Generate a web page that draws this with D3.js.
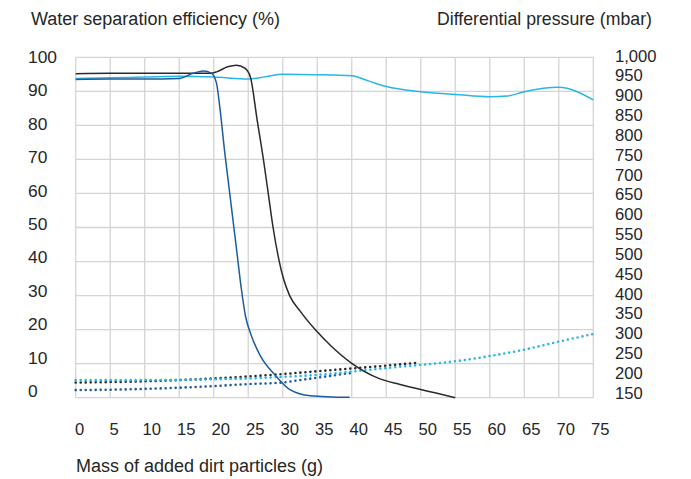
<!DOCTYPE html>
<html lang="en">
<head>
<meta charset="utf-8">
<title>Water separation</title>
<script src="https://cdn.jsdelivr.net/npm/d3@7"></script>
<style>
body { margin: 0; background: #fff; }
text { font-family: "Liberation Sans", Arial, Helvetica, sans-serif; fill: #262626; }
</style>
</head>
<body>
<script>
// x ticks, y ticks
var massTicks = d3.range(0, 80, 5);
var effTicks = d3.range(0, 110, 10);
var pressTicks = d3.range(150, 1050, 50);

// efficiency (%) vs mass (g)
var effBlack = [[0,95.2],[5,95.3],[10,95.3],[15,95.3],[19.5,95.3],[20.5,95.8],[22,97.2],[23.3,97.7],[24.5,96.8],[25.3,94.3],[26.3,81.5],[27.2,70],[27.9,60],[28.6,50],[29.5,40],[30.1,35],[31,30],[32.5,25.5],[34.7,20],[37,15.2],[40,10.1],[44,5.6],[47,3.9],[50,2.4],[52.8,1.1],[55,0]];
var effDarkBlue = [[0,93.5],[5,93.6],[10,93.6],[15,93.8],[17,95.3],[18.5,96.0],[19.7,95.3],[20.4,92.4],[20.9,85],[21.6,72],[22.2,62],[22.8,52],[23.4,42],[24,32],[24.6,24],[25.4,18.5],[26.7,12.5],[29.1,6.2],[31.1,2.3],[34,0.6],[39.7,0.1]];
var effLightBlue = [[0,93.8],[5,94.0],[10,94.2],[15,94.4],[20,94.2],[25,93.6],[27.5,94.3],[30,95.0],[35,94.9],[40,94.6],[42.5,93],[45,91.4],[50,89.9],[55,89.1],[60,88.4],[62.5,88.6],[65,89.9],[70,91.2],[75,87.5]];

// differential pressure (mbar) vs mass (g)
var pressBlack = [[0,188],[5,189],[10,191],[15,194],[20,198],[25,203],[30,209],[35,216],[40,223],[45,230],[49.3,237]];
var pressDarkBlue = [[0,169],[5,170],[10,172],[15,175],[20,179],[25,184],[30,188],[32.5,194],[35,200],[40,212]];
var pressLightBlue = [[0,194],[10,194],[20,196],[25,198],[30,202],[35,207],[40,215],[45,224],[50,232],[55,241],[60,254],[65,270],[70,290],[75,309]];

var W = 691, H = 479;
var plotL = 75.7, plotR = 593.3, plotT = 57.3, plotB = 397.7;

var svg = d3.select("body").append("svg")
    .attr("width", W)
    .attr("height", H);

var x = d3.scaleLinear().domain([0, 75]).range([plotL, plotR]);
var yEff = d3.scaleLinear().domain([0, 100]).range([plotB, plotT]);
var yPress = d3.scaleLinear().domain([150, 1000]).range([plotB, plotT]);
// tick labels sit a little higher than the grid in the original
var yEffLabel = d3.scaleLinear().domain([0, 100]).range([390.7, 56.7]);
var yPressLabel = d3.scaleLinear().domain([150, 1000]).range([392.7, 55.7]);

// grid
svg.append("g").selectAll("line")
    .data(massTicks)
    .enter()
    .append("line")
    .attr("x1", function(d) { return x(d); })
    .attr("x2", function(d) { return x(d); })
    .attr("y1", plotT)
    .attr("y2", plotB)
    .attr("stroke", "#d4d4d4")
    .attr("stroke-width", 1.3);

svg.append("g").selectAll("line")
    .data(effTicks)
    .enter()
    .append("line")
    .attr("x1", plotL)
    .attr("x2", plotR)
    .attr("y1", function(d) { return yEff(d); })
    .attr("y2", function(d) { return yEff(d); })
    .attr("stroke", "#d4d4d4")
    .attr("stroke-width", 1.3);

// tick labels
svg.append("g").selectAll("text")
    .data(effTicks)
    .enter()
    .append("text")
    .text(function(d) { return d; })
    .attr("x", 28)
    .attr("y", function(d) { return yEffLabel(d); })
    .attr("dy", "0.36em")
    .attr("font-size", "17.4px");

svg.append("g").selectAll("text")
    .data(pressTicks)
    .enter()
    .append("text")
    .text(d3.format(","))
    .attr("x", 615)
    .attr("y", function(d) { return yPressLabel(d); })
    .attr("dy", "0.36em")
    .attr("font-size", "16.6px");

svg.append("g").selectAll("text")
    .data(massTicks)
    .enter()
    .append("text")
    .text(function(d) { return d; })
    .attr("x", function(d) { return x(d) + (d < 10 ? 4 : 7); })
    .attr("y", 429.5)
    .attr("dy", "0.36em")
    .attr("text-anchor", "middle")
    .attr("font-size", "16.6px");

// titles
svg.append("text").text("Water separation efficiency (%)")
    .attr("x", 31).attr("y", 18.5).attr("dy", "0.36em").attr("font-size", "18px");
svg.append("text").text("Differential pressure (mbar)")
    .attr("x", 437).attr("y", 18.5).attr("dy", "0.36em").attr("font-size", "17.7px");
svg.append("text").text("Mass of added dirt particles (g)")
    .attr("x", 76).attr("y", 465.5).attr("dy", "0.36em").attr("font-size", "18px");

var lineEff = d3.line()
    .x(function(d) { return x(d[0]); })
    .y(function(d) { return yEff(d[1]); })
    .curve(d3.curveMonotoneX);

var linePress = d3.line()
    .x(function(d) { return x(d[0]); })
    .y(function(d) { return yPress(d[1]); })
    .curve(d3.curveMonotoneX);

var dotted = [
    [pressDarkBlue, "#1d5c9b"],
    [pressBlack, "#2a2a2a"],
    [pressLightBlue, "#29b5e8"]
];
dotted.forEach(function(s) {
    svg.append("path")
        .attr("d", linePress(s[0]))
        .attr("fill", "none")
        .attr("stroke", s[1])
        .attr("stroke-width", 2.6)
        .attr("stroke-linecap", "round")
        .attr("stroke-dasharray", "0 5");
});

var solid = [
    [effLightBlue, "#29b5e8"],
    [effBlack, "#2a2a2a"],
    [effDarkBlue, "#1d5c9b"]
];
solid.forEach(function(s) {
    svg.append("path")
        .attr("d", lineEff(s[0]))
        .attr("fill", "none")
        .attr("stroke", s[1])
        .attr("stroke-width", 1.5);
});
</script>
</body>
</html>
